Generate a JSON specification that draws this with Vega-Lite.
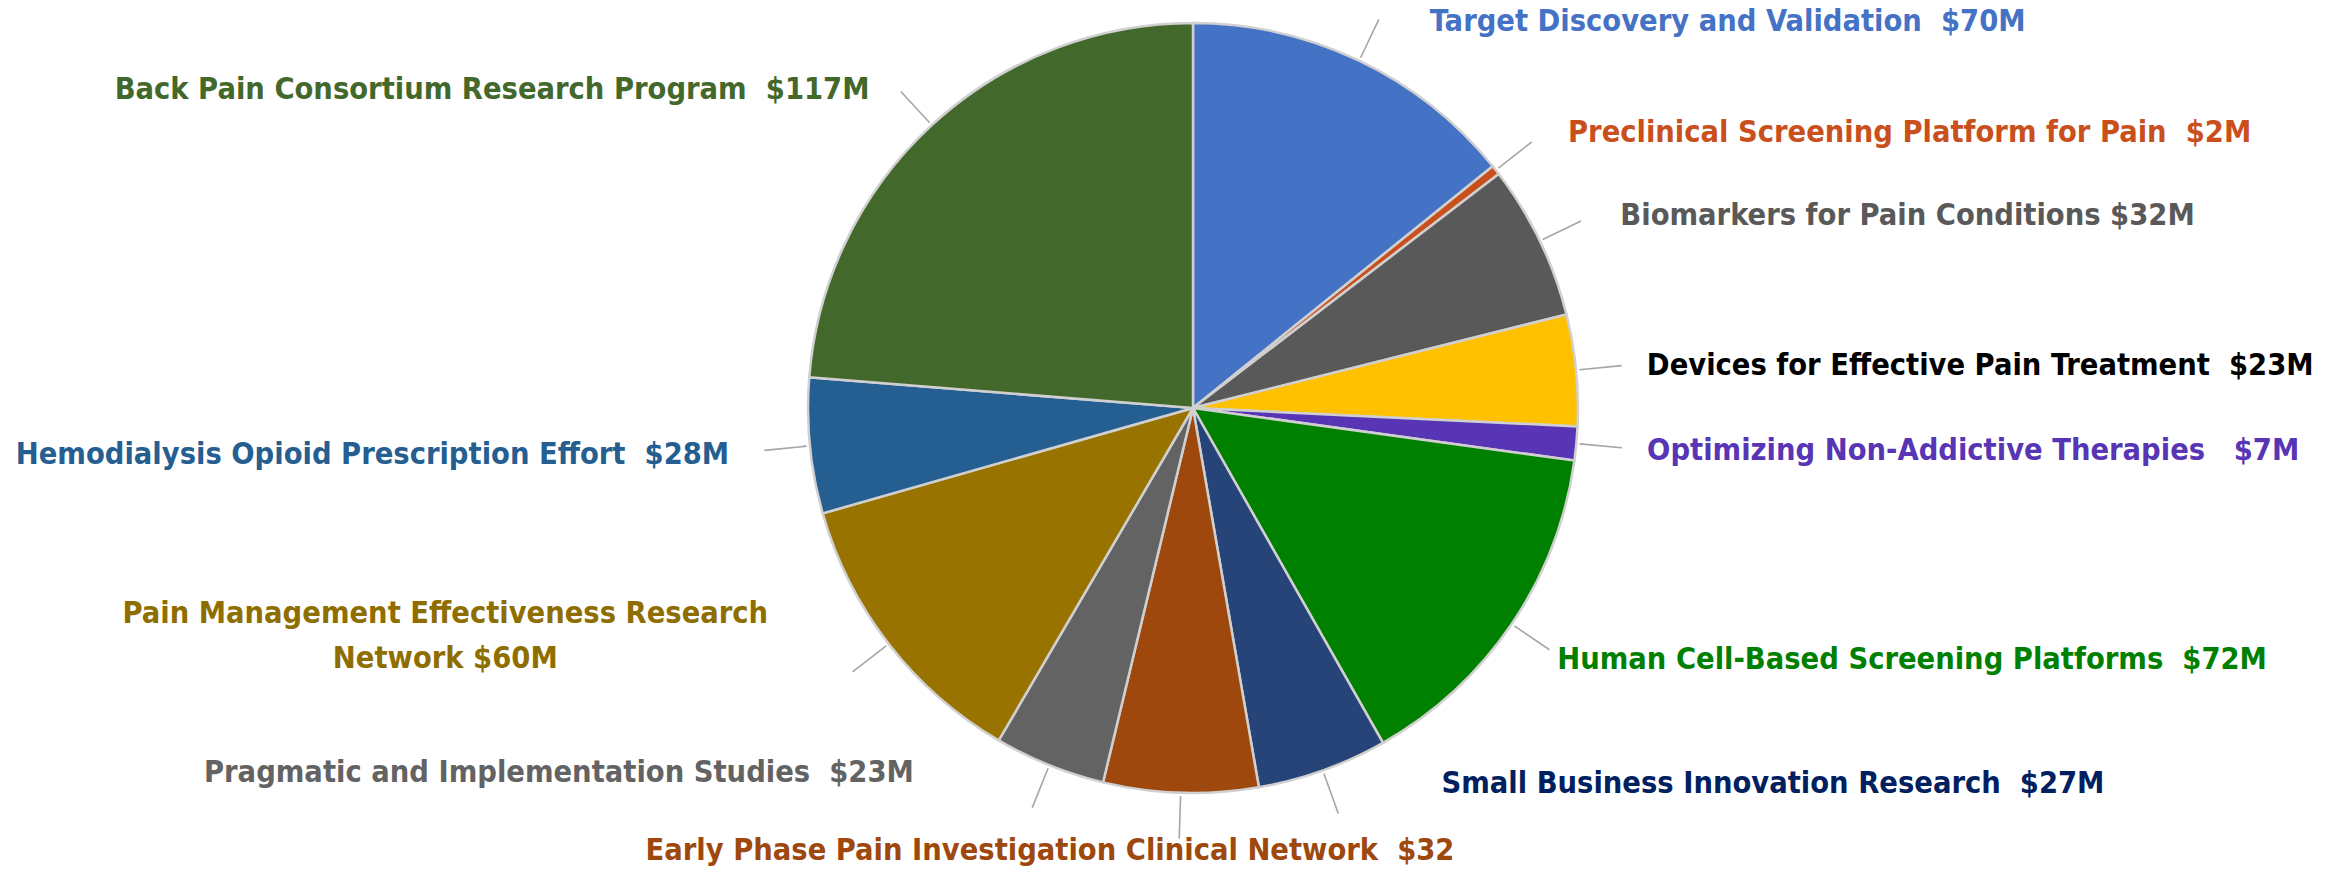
{
  "$schema": "https://vega.github.io/schema/vega-lite/v6.json",
  "autosize": {"type": "none"},
  "width": 2296,
  "height": 816,
  "padding": {"left": 45, "top": 0, "right": 0, "bottom": 53},
  "background": "white",
  "config": {"view": {"stroke": null}, "text": {"font": "Liberation Sans Narrow, DejaVu Sans Condensed, sans-serif", "fontWeight": "bold", "fontSize": 30.5, "baseline": "middle"}},
  "data": {"values": [
    {"program": "Target Discovery and Validation", "label": "Target Discovery and Validation\u00a0 $70M", "funding": 70, "order": 1},
    {"program": "Preclinical Screening Platform for Pain", "label": "Preclinical Screening Platform for Pain\u00a0 $2M", "funding": 2, "order": 2},
    {"program": "Biomarkers for Pain Conditions", "label": "Biomarkers for Pain Conditions $32M", "funding": 32, "order": 3},
    {"program": "Devices for Effective Pain Treatment", "label": "Devices for Effective Pain Treatment\u00a0 $23M", "funding": 23, "order": 4},
    {"program": "Optimizing Non-Addictive Therapies", "label": "Optimizing Non-Addictive Therapies\u00a0\u00a0 $7M", "funding": 7, "order": 5},
    {"program": "Human Cell-Based Screening Platforms", "label": "Human Cell-Based Screening Platforms\u00a0 $72M", "funding": 72, "order": 6},
    {"program": "Small Business Innovation Research", "label": "Small Business Innovation Research\u00a0 $27M", "funding": 27, "order": 7},
    {"program": "Early Phase Pain Investigation Clinical Network", "label": "Early Phase Pain Investigation Clinical Network\u00a0 $32", "funding": 32, "order": 8},
    {"program": "Pragmatic and Implementation Studies", "label": "Pragmatic and Implementation Studies\u00a0 $23M", "funding": 23, "order": 9},
    {"program": "Pain Management Effectiveness Research Network", "label": "Pain Management Effectiveness Research\nNetwork $60M", "funding": 60, "order": 10},
    {"program": "Hemodialysis Opioid Prescription Effort", "label": "Hemodialysis Opioid Prescription Effort\u00a0 $28M", "funding": 28, "order": 11},
    {"program": "Back Pain Consortium Research Program", "label": "Back Pain Consortium Research Program\u00a0 $117M", "funding": 117, "order": 12}
  ]},
  "transform": [
    {"window": [{"op": "sum", "field": "funding", "as": "cum_end"}], "sort": [{"field": "order"}], "frame": [null, 0]},
    {"calculate": "datum.cum_end - datum.funding", "as": "cum_start"},
    {"calculate": "datum.cum_end - datum.funding / 2", "as": "mid"},
    {"calculate": "datum.mid + 0.02", "as": "mid2"}
  ],
  "layer": [
    {
      "mark": {"type": "arc", "radius": 385, "stroke": "#D0D0D0", "strokeWidth": 2.5},
      "encoding": {
        "theta": {"field": "cum_start", "type": "quantitative", "stack": null, "scale": {"domain": [0, 493]}},
        "theta2": {"field": "cum_end"},
        "color": {"field": "program", "type": "nominal", "legend": null, "sort": null,
          "scale": {
            "domain": ["Target Discovery and Validation", "Preclinical Screening Platform for Pain", "Biomarkers for Pain Conditions", "Devices for Effective Pain Treatment", "Optimizing Non-Addictive Therapies", "Human Cell-Based Screening Platforms", "Small Business Innovation Research", "Early Phase Pain Investigation Clinical Network", "Pragmatic and Implementation Studies", "Pain Management Effectiveness Research Network", "Hemodialysis Opioid Prescription Effort", "Back Pain Consortium Research Program"],
            "range": ["#4472C4", "#C9501C", "#595959", "#FFC000", "#5835B5", "#008000", "#264478", "#9E480E", "#636363", "#997300", "#255E91", "#43682B"]
          }}
      }
    },
    {
      "mark": {"type": "arc", "radius": 389, "radius2": 430, "stroke": "#A6A6A6", "strokeWidth": 1.5, "fill": "transparent"},
      "encoding": {
        "theta": {"field": "mid", "type": "quantitative", "stack": null},
        "theta2": {"field": "mid2"}
      }
    },
    {"transform": [{"filter": "datum.order == 1"}], "mark": {"type": "text", "radius": 440, "align": "left", "dx": 47, "dy": 11, "color": "#4472C4"},
     "encoding": {"theta": {"field": "mid", "type": "quantitative", "stack": null}, "text": {"field": "label"}}},
    {"transform": [{"filter": "datum.order == 2"}], "mark": {"type": "text", "radius": 440, "align": "left", "dx": 29, "dy": -3, "color": "#C9501C"},
     "encoding": {"theta": {"field": "mid", "type": "quantitative", "stack": null}, "text": {"field": "label"}}},
    {"transform": [{"filter": "datum.order == 3"}], "mark": {"type": "text", "radius": 440, "align": "left", "dx": 31, "dy": -1, "color": "#595959"},
     "encoding": {"theta": {"field": "mid", "type": "quantitative", "stack": null}, "text": {"field": "label"}}},
    {"transform": [{"filter": "datum.order == 4"}], "mark": {"type": "text", "radius": 440, "align": "left", "dx": 16, "dy": 1, "color": "#000000"},
     "encoding": {"theta": {"field": "mid", "type": "quantitative", "stack": null}, "text": {"field": "label"}}},
    {"transform": [{"filter": "datum.order == 5"}], "mark": {"type": "text", "radius": 440, "align": "left", "dx": 16, "dy": 2, "color": "#5835B5"},
     "encoding": {"theta": {"field": "mid", "type": "quantitative", "stack": null}, "text": {"field": "label"}}},
    {"transform": [{"filter": "datum.order == 6"}], "mark": {"type": "text", "radius": 440, "align": "left", "dx": 0, "dy": 5, "color": "#008000"},
     "encoding": {"theta": {"field": "mid", "type": "quantitative", "stack": null}, "text": {"field": "label"}}},
    {"transform": [{"filter": "datum.order == 7"}], "mark": {"type": "text", "radius": 440, "align": "left", "dx": 100, "dy": -38, "color": "#002060"},
     "encoding": {"theta": {"field": "mid", "type": "quantitative", "stack": null}, "text": {"field": "label"}}},
    {"transform": [{"filter": "datum.order == 8"}], "mark": {"type": "text", "radius": 440, "align": "center", "dx": -129, "dy": 3, "color": "#9E480E"},
     "encoding": {"theta": {"field": "mid", "type": "quantitative", "stack": null}, "text": {"field": "label"}}},
    {"transform": [{"filter": "datum.order == 9"}], "mark": {"type": "text", "radius": 440, "align": "right", "dx": -115, "dy": -43, "color": "#636363"},
     "encoding": {"theta": {"field": "mid", "type": "quantitative", "stack": null}, "text": {"field": "label"}}},
    {"transform": [{"filter": "datum.order == 10"}], "mark": {"type": "text", "radius": 440, "align": "center", "dx": -400, "dy": -64, "lineBreak": "\n", "lineHeight": 45, "color": "#8F6E00"},
     "encoding": {"theta": {"field": "mid", "type": "quantitative", "stack": null}, "text": {"field": "label"}}},
    {"transform": [{"filter": "datum.order == 11"}], "mark": {"type": "text", "radius": 440, "align": "right", "dx": -26, "dy": 4, "color": "#255E91"},
     "encoding": {"theta": {"field": "mid", "type": "quantitative", "stack": null}, "text": {"field": "label"}}},
    {"transform": [{"filter": "datum.order == 12"}], "mark": {"type": "text", "radius": 440, "align": "right", "dx": -25, "dy": 5, "color": "#43682B"},
     "encoding": {"theta": {"field": "mid", "type": "quantitative", "stack": null}, "text": {"field": "label"}}}
  ]
}
